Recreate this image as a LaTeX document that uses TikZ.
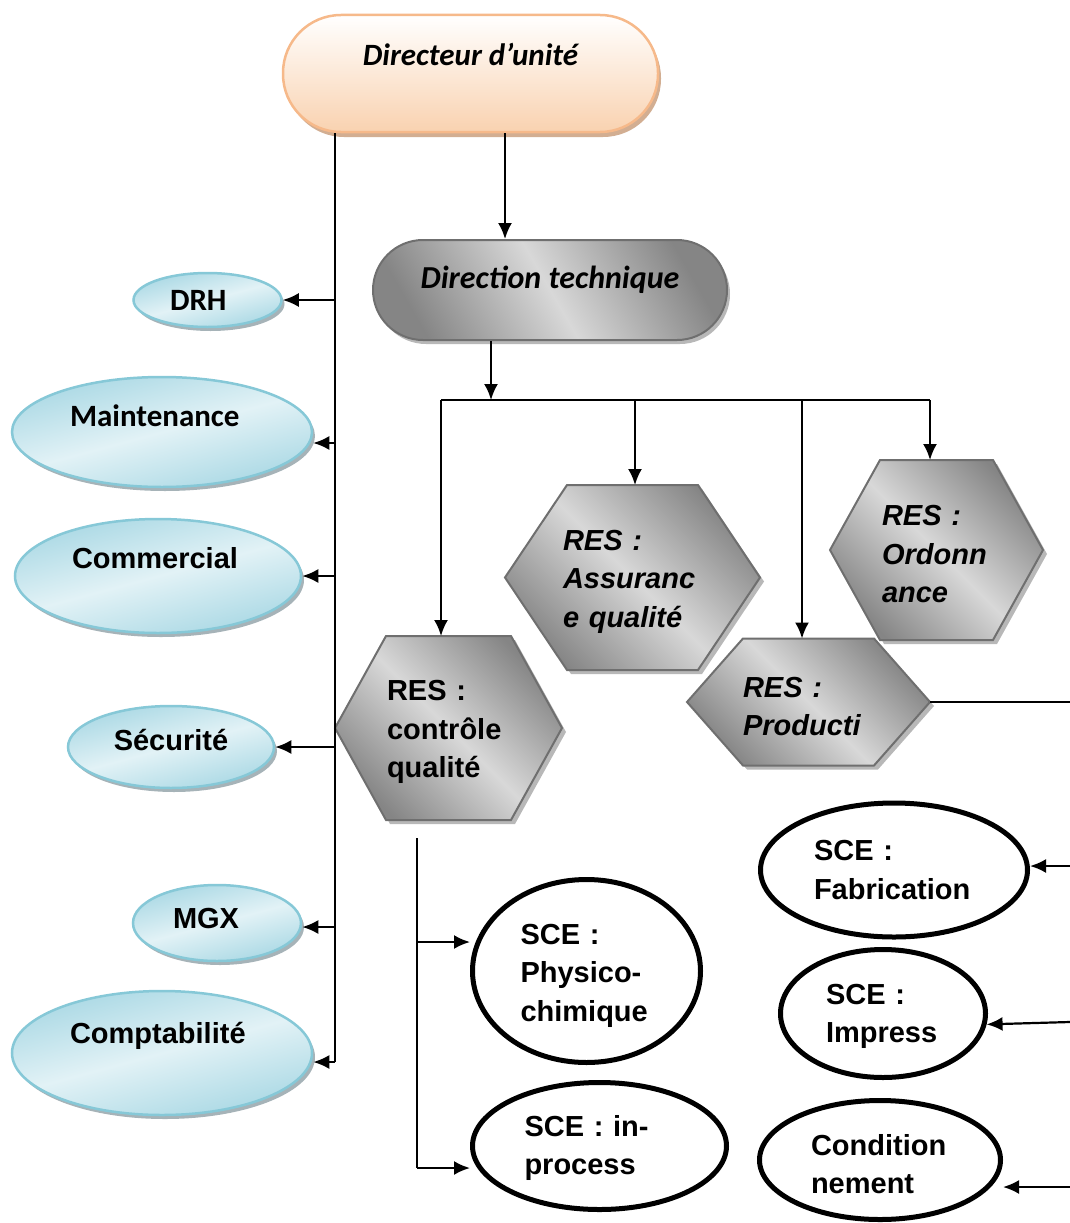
\documentclass[tikz,border=0pt]{standalone}
\usepackage{fontspec}
\setmainfont{Liberation Sans}
\newfontfamily\calfont{Carlito}
\usetikzlibrary{shapes.geometric,arrows.meta,shadows}
\pgfdeclarelayer{bg}
\pgfsetlayers{bg,main}
\definecolor{peach}{HTML}{F9D2B0}
\definecolor{peachedge}{HTML}{F6B98A}
\definecolor{peachshadow}{HTML}{D2AE92}
\definecolor{hexdark}{HTML}{858585}
\definecolor{hexlight}{HTML}{D8D8D8}
\definecolor{hexedge}{HTML}{6F6F6F}
\definecolor{shadowgray}{HTML}{B8B8B8}
\definecolor{blueedge}{HTML}{86C8D7}
\definecolor{blueA}{HTML}{A9D8E4}
\definecolor{blueB}{HTML}{E2F2F6}
\definecolor{shadowblue}{HTML}{A6B3B8}
\newcommand\hexoutline[2]{%
  \begin{pgfonlayer}{bg}
  \path[hexfill] (#1.west) -- ([xshift=#2pt]#1.north west) -- ([xshift=-#2pt]#1.north east)
    -- (#1.east) -- ([xshift=-#2pt]#1.south east) -- ([xshift=#2pt]#1.south west) -- cycle;
  \end{pgfonlayer}}
\newcommand\topstrut{\rule{0pt}{29pt}}
\begin{document}
\begin{tikzpicture}[x=1pt,y=-1pt,
  conn/.style={line width=2.2pt, draw=black},
  arr/.style={conn, -{Latex[length=16pt,width=14pt]}},
  tshift/.style={text height=20pt, text depth=#1},
  arialf/.style={font=\fontsize{29}{38.5}\selectfont\bfseries},
  arialit/.style={font=\fontsize{29}{38.5}\selectfont\bfseries\itshape},
  calbold/.style={font=\calfont\fontsize{31}{36}\selectfont\bfseries},
  blueell/.style={ellipse, inner sep=0pt, draw=blueedge, line width=2.5pt,
    top color=blueA, bottom color=blueA, middle color=blueB, shading angle=15,
    drop shadow={shadow xshift=3pt, shadow yshift=-4pt, fill=shadowblue, opacity=1}},
  hexbox/.style={rectangle, draw=none, inner sep=0pt, outer sep=0pt, align=left},
  hexfill/.style={draw=hexedge, line width=2pt, left color=hexdark, right color=hexdark,
    middle color=hexlight, shading angle=135,
    drop shadow={shadow xshift=4pt, shadow yshift=-4pt, fill=shadowgray, opacity=1}},
  sce/.style={ellipse, draw=black, line width=5pt, fill=white, inner sep=0pt, align=left, arialf}
]
\useasboundingbox (0,0) rectangle (1070,1223);

% top nodes
\node[rectangle, rounded corners=58pt, minimum width=375pt, minimum height=117pt,
  draw=peachedge, line width=2.5pt, top color=white, bottom color=peach,
  drop shadow={shadow xshift=3pt, shadow yshift=-5pt, fill=peachshadow, opacity=1},
  font=\calfont\fontsize{31}{38}\selectfont\bfseries\itshape, tshift=36pt] (dir) at (470.5,73.5) {Directeur d’unité};

\node[rectangle, rounded corners=50pt, minimum width=354pt, minimum height=100pt,
  draw=hexedge, line width=2pt, left color=hexdark, right color=hexdark, middle color=hexlight,
  shading angle=120,
  drop shadow={shadow xshift=3pt, shadow yshift=-4pt, fill=shadowgray, opacity=1},
  font=\calfont\fontsize{32}{38}\selectfont\bfseries\itshape, tshift=24pt] (dtech) at (550,290) {Direction technique};

% left blue ellipses
\node[blueell, calbold, minimum width=148pt, minimum height=54pt, align=left, text width=75pt, tshift=0pt] (drh) at (207.5,300) {DRH};
\node[blueell, calbold, minimum width=300pt, minimum height=110pt, align=left, text width=184pt, tshift=32pt] (maint) at (162,432) {Maintenance};
\node[blueell, arialf, minimum width=286pt, minimum height=114pt, align=left, text width=172pt, tshift=36pt] (comm) at (158,576) {Commercial};
\node[blueell, arialf, minimum width=206pt, minimum height=82pt, tshift=14pt] (secu) at (171,747) {Sécurité};
\node[blueell, arialf, minimum width=168pt, minimum height=76pt, align=left, text width=88pt, tshift=10pt] (mgx) at (217,923) {MGX};
\node[blueell, arialf, minimum width=300pt, minimum height=124pt, align=left, text width=184pt, tshift=40pt] (compt) at (162,1053) {Comptabilité};

% hexagons
\node[hexbox, arialf, minimum width=227pt, minimum height=184pt, text width=123pt] (cq) at (448.5,728) {\topstrut RES :\\contrôle\\qualité};
\hexoutline{cq}{51}
\node[hexbox, arialit, minimum width=255pt, minimum height=185pt, text width=139pt] (assur) at (632.5,577.5) {\topstrut RES :\\Assuranc\\e qualité};
\hexoutline{assur}{62}
\node[hexbox, arialit, minimum width=213pt, minimum height=180pt, text width=109pt] (ordo) at (936.5,550) {\topstrut RES :\\Ordonn\\ance};
\hexoutline{ordo}{50}
\node[hexbox, arialit, minimum width=243pt, minimum height=127pt, text width=131pt] (prod) at (808.5,702) {\topstrut RES :\\Producti};
\hexoutline{prod}{56}

% SCE ellipses
\node[sce, minimum width=267pt, minimum height=134pt, text width=160pt] (fab) at (894,870) {SCE :\\Fabrication};
\node[sce, minimum width=205pt, minimum height=128pt, text width=114pt] (imp) at (883,1013.5) {\rule{0pt}{26pt}SCE :\\Impress};
\node[sce, minimum width=241pt, minimum height=119pt, text width=138pt] (cond) at (880,1160) {\topstrut Condition\\nement};
\node[sce, minimum width=228pt, minimum height=183pt, text width=132pt] (phys) at (586.5,971) {\topstrut SCE :\\Physico-\\chimique};
\node[sce, minimum width=254pt, minimum height=127pt, text width=150pt] (inproc) at (599.5,1146) {\rule{0pt}{25pt}SCE : in-\\process};

% coordinates
\coordinate (lt) at (335,132);
\coordinate (lb) at (335,1062);
\coordinate (hl) at (441,400);
\coordinate (hr) at (930,400);
\coordinate (cqt) at (417,838);
\coordinate (cqb) at (417,1168);
\coordinate (rp) at (1070,702);
\coordinate (rf) at (1070,866);
\coordinate (ri) at (1070,1022);
\coordinate (rc) at (1070,1187);

% connectors: left trunk
\draw[conn] (dir.south -| lt) -- (lb);
\draw[arr] (lt |- drh.east) -- (drh.east);
\draw[arr] (335,443) -- (maint.east |- 0,443);
\draw[arr] (lt |- comm.east) -- (comm.east);
\draw[arr] (lt |- secu.east) -- (secu.east);
\draw[arr] (335,927) -- (mgx.east |- 0,927);
\draw[arr] (lb) -- (compt.east |- lb);

% top to direction technique
\draw[arr] (dir.south -| 505,0) -- (dtech.north -| 505,0);
\draw[arr] (dtech.south -| 491,0) -- (491,400);
\draw[conn] (hl) -- (hr);
\draw[arr] (hl) -- (cq.north -| hl);
\draw[arr] (635,400) -- (assur.north -| 635,0);
\draw[arr] (802,400) -- (prod.north -| 802,0);
\draw[arr] (hr) -- (ordo.north -| hr);

% production line and right arrows
\draw[conn] (prod.east) -- (rp);
\draw[arr] (rf) -- (fab.east |- rf);
\draw[arr] (ri) -- (imp.-6);
\draw[arr] (rc) -- (cond.east |- rc);

% controle qualite branch
\draw[conn] (cqt) -- (cqb);
\draw[arr] (417,942) -- (phys.west |- 0,942);
\draw[arr] (cqb) -- (inproc.west |- cqb);
\end{tikzpicture}
\end{document}
